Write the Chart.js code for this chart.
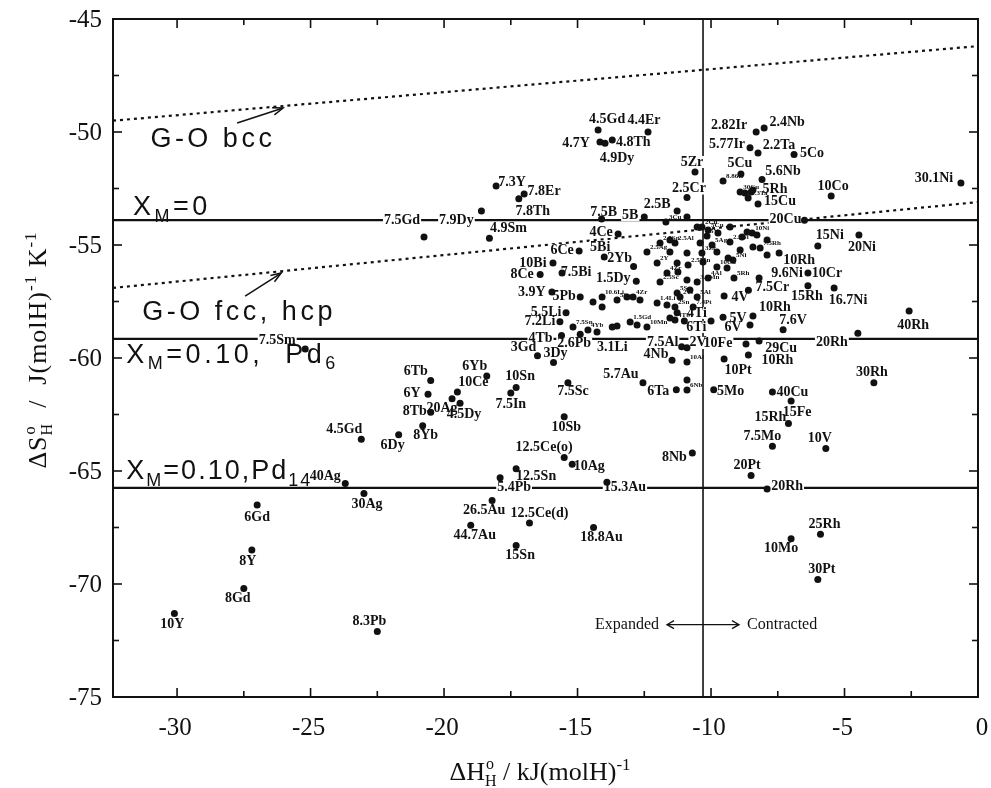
<!DOCTYPE html>
<html>
<head>
<meta charset="utf-8">
<script src="https://cdn.jsdelivr.net/npm/chart.js@4.4.1/dist/chart.umd.min.js"></script>
<style>
  html, body { margin: 0; padding: 0; background: #fff; }
</style>
</head>
<body>
<canvas id="chart" width="991" height="788"></canvas>
<script>
// ---- data: [label, dH (kJ/molH), dS (J/molH/K)] ----
const groupTop = [
  ['4.5Gd', -14.23, -49.91], ['4.4Er', -12.36, -50.0], ['4.7Y', -14.16, -50.44],
  ['4.8Th', -13.7, -50.35], ['4.9Dy', -13.97, -50.5], ['2.82Ir', -8.31, -50.0],
  ['2.4Nb', -8.01, -49.82], ['5.77Ir', -8.54, -50.7], ['2.2Ta', -8.24, -50.93],
  ['5Co', -6.89, -51.0], ['5Zr', -10.6, -51.77], ['5Cu', -8.88, -51.86],
  ['5.6Nb', -8.09, -52.1], ['5Rh', -8.5, -52.65], ['10Co', -5.5, -52.83],
  ['30.1Ni', -0.64, -52.26], ['15Cu', -8.24, -53.19], ['2.5Cr', -10.9, -52.9],
  ['2.5B', -11.27, -53.5], ['7.5B', -14.1, -53.85], ['5B', -12.5, -53.76],
  ['20Cu', -6.5, -53.9], ['7.3Y', -18.05, -52.39], ['7.8Er', -17.0, -52.74],
  ['7.8Th', -17.2, -52.95], ['7.9Dy', -18.6, -53.5], ['4.9Sm', -18.3, -54.7],
  ['7.5Gd', -20.75, -54.65]
];
const groupMidRight = [
  ['15Ni', -6.0, -55.04], ['20Ni', -4.46, -54.56], ['10Rh', -7.45, -55.35],
  ['9.6Ni', -8.2, -56.46], ['10Cr', -6.37, -56.24], ['15Rh', -6.37, -56.8],
  ['16.7Ni', -5.39, -56.9], ['7.5Cr', -8.6, -57.0], ['4V', -9.51, -57.26],
  ['10Rh', -8.43, -58.14], ['40Rh', -2.58, -57.92], ['5V', -9.55, -58.2],
  ['6V', -8.54, -58.54], ['7.6V', -7.3, -58.75], ['20Rh', -4.5, -58.9],
  ['10Fe', -8.69, -59.38], ['29Cu', -8.2, -59.25], ['10Rh', -8.6, -59.87],
  ['10Pt', -9.51, -60.04], ['5Mo', -9.9, -61.4], ['40Cu', -7.7, -61.5],
  ['4Ti', -10.0, -58.36], ['6Ti', -11.0, -58.36], ['7.5Al', -11.1, -59.5],
  ['2V', -10.9, -59.55], ['4Nb', -11.46, -60.1], ['5.7Au', -12.55, -61.1],
  ['6Ta', -11.3, -61.4]
];
const groupMidLeft = [
  ['4Ce', -13.48, -54.51], ['6Ce', -14.94, -55.27], ['5Bi', -14.0, -55.53],
  ['7.5Bi', -15.58, -56.24], ['1.5Dy', -12.8, -56.6], ['2Yb', -12.9, -55.95],
  ['10Bi', -15.92, -55.8], ['8Ce', -16.4, -56.3], ['3.9Y', -15.96, -57.08],
  ['5Pb', -14.9, -57.3], ['5.5Li', -15.43, -58.0], ['7.2Li', -15.66, -58.4],
  ['3.1Li', -13.7, -58.63], ['2.6Pb', -14.9, -58.95], ['4Tb', -15.6, -59.0],
  ['7.5Sc', -15.36, -61.1], ['3Gd', -16.5, -59.9], ['3Dy', -15.9, -60.2]
];
const groupLowLeft = [
  ['7.5Sm', -25.2, -59.6], ['6Tb', -20.5, -61.0], ['6Y', -20.6, -61.6],
  ['8Tb', -20.5, -62.4], ['8Yb', -20.8, -63.0], ['6Dy', -21.7, -63.4],
  ['4.5Gd', -23.1, -63.6], ['20Ag', -19.7, -61.8], ['10Ce', -19.5, -61.5],
  ['4.5Dy', -19.4, -62.0], ['6Yb', -18.4, -60.8], ['10Sn', -17.3, -61.3],
  ['7.5In', -17.5, -61.55], ['10Sb', -15.5, -62.6], ['12.5Ce(o)', -15.5, -64.4],
  ['10Ag', -15.2, -64.7], ['12.5Sn', -17.3, -64.9], ['5.4Pb', -17.9, -65.3],
  ['15.3Au', -13.9, -65.5], ['26.5Au', -18.2, -66.3], ['44.7Au', -19.0, -67.4],
  ['12.5Ce(d)', -16.8, -67.3], ['18.8Au', -14.4, -67.5], ['15Sn', -17.3, -68.3],
  ['8.3Pb', -22.5, -72.1], ['40Ag', -23.7, -65.55], ['30Ag', -23.0, -66.0],
  ['6Gd', -27.0, -66.5], ['8Y', -27.2, -68.5], ['8Gd', -27.5, -70.2],
  ['10Y', -30.1, -71.3]
];
const groupLowRight = [
  ['8Nb', -10.7, -64.2], ['20Pt', -8.5, -65.2], ['20Rh', -7.9, -65.8],
  ['7.5Mo', -7.7, -63.9], ['15Rh', -7.1, -62.9], ['15Fe', -7.0, -61.9],
  ['10V', -5.7, -64.0], ['30Rh', -3.9, -61.1], ['10Mo', -7.0, -68.0],
  ['25Rh', -5.9, -67.8], ['30Pt', -6.0, -69.8]
];
// crowded centre, tiny labels
const groupCluster = [
  ['8.86Ir', -9.55, -52.17], ['5.3Ta', -8.61, -52.92], ['30Cu', -8.91, -52.65],
  ['', -8.73, -52.7], ['', -8.43, -52.57], ['3Cu', -11.69, -53.98],
  ['', -10.9, -53.76], ['2Cu', -10.34, -54.2], ['5Cu', -10.11, -54.34],
  ['', -9.74, -54.47], ['2.5Sn', -11.91, -54.91], ['', -11.54, -54.78],
  ['2.5Al', -11.35, -54.91], ['', -10.41, -54.91], ['5Ag', -9.96, -55.0],
  ['2.5Ni', -9.29, -54.87], ['', -8.84, -54.65], ['10Ni', -8.46, -54.47],
  ['', -8.65, -54.42], ['2.5Ag', -12.4, -55.31], ['', -11.54, -55.31],
  ['', -10.9, -55.35], ['3Zr', -10.34, -55.35], ['', -9.78, -55.31],
  ['', -9.36, -55.58], ['5Ni', -9.18, -55.66], ['', -8.91, -55.22],
  ['7.5Rh', -8.16, -55.13], ['', -7.9, -55.44], ['2Y', -12.02, -55.8],
  ['', -11.27, -55.8], ['2.5Mn', -10.86, -55.88], ['', -10.3, -55.75],
  ['10Cu', -9.78, -55.97], ['', -9.4, -56.02], ['4Zr', -11.65, -56.24],
  ['', -11.24, -56.19], ['4Al', -10.11, -56.46], ['5Rh', -9.14, -56.46],
  ['2.5Sc', -11.91, -56.64], ['', -10.9, -56.55], ['3.5Mn', -10.52, -56.64],
  ['5Sn', -11.27, -57.12], ['', -10.79, -56.99], ['2Ti', -11.16, -57.3],
  ['5Al', -10.52, -57.3], ['10.6Li', -14.08, -57.3], ['', -14.08, -57.74],
  ['5Sc', -13.52, -57.43], ['', -13.15, -57.3], ['4Zr', -12.92, -57.3],
  ['', -12.66, -57.43], ['1.4Li', -12.02, -57.57], ['', -11.65, -57.65],
  ['2Sn', -11.35, -57.74], ['', -11.27, -58.0], ['7.4Pt', -10.67, -57.74],
  ['', -14.42, -57.52], ['7.5Sn', -15.17, -58.63], ['4Yb', -14.61, -58.76],
  ['', -14.27, -58.85], ['', -13.52, -58.58], ['1.5Gd', -13.03, -58.41],
  ['', -12.77, -58.54], ['10Mn', -12.4, -58.63], ['', -11.54, -58.23],
  ['4Tb', -11.35, -58.32], ['10Al', -10.9, -60.18], ['', -10.9, -60.97],
  ['6Nb', -10.9, -61.42], ['', -10.52, -54.2], ['', -9.29, -54.2],
  ['', -8.28, -54.56], ['', -7.9, -54.78], ['5V', -10.15, -54.6],
  ['', -8.43, -55.09]
];

// guide lines
const xmLevels = [-53.9, -59.15, -65.75];        // X_M = 0, Pd6, Pd14
const splitH = -10.3;                              // expanded / contracted
const goBcc = [[-32.4, -49.5], [0, -46.2]];
const goFcc = [[-32.4, -56.9], [0, -53.1]];

// axes
const xRange = [-32.4, 0];
const yRange = [-75, -45];
const xTicks = [-30, -25, -20, -15, -10, -5, 0];
const xMinor = [-27.5, -22.5, -17.5, -12.5, -7.5, -2.5];
const yTicks = [-45, -50, -55, -60, -65, -70, -75];
const yMinor = [-47.5, -52.5, -57.5, -62.5, -67.5, -72.5];

// ---- label placement (pixel offsets of label centre from the point) ----
const placeTop = [
  [9,-11],[-4,-12],[-24,1],[21,2],[12,15],[-27,-7],[23,-6],[-23,-3],[21,-8],[18,-1],
  [-3,-10],[-1,-11],[21,-8],[24,-2],[2,-10],[-27,-5],[22,-3],[2,-9],[-20,-7],[2,-7],
  [-14,-2],[-19,-1],[16,-4],[20,-3],[14,13],[-25,9],[19,-10],[-22,-17]
];
const placeMidRight = [
  [12,-11],[3,12],[20,7],[28,-5],[19,0],[-1,11],[14,12],[24,-3],[16,1],[22,-9],
  [4,14],[15,1],[-17,2],[10,-9],[-26,9],[-28,-1],[22,7],[29,5],[14,11],[17,2],
  [20,0],[-14,-8],[12,6],[-19,-4],[11,-5],[-16,-6],[-22,-8],[-18,2]
];
const placeMidLeft = [
  [-17,-2],[-17,-1],[-4,-10],[14,-1],[-23,-3],[-14,-8],[-20,0],[-18,0],[-20,0],
  [-16,-1],[-20,0],[-20,0],[0,20],[-6,9],[-21,3],[5,9],[-14,-8],[2,-9]
];
const placeLowLeft = [
  [-28,-9],[-15,-9],[-16,-1],[-16,-1],[3,10],[-6,11],[-17,-10],[-10,10],[16,-10],
  [4,11],[-12,-10],[4,-11],[0,11],[2,11],[-20,-10],[17,2],[20,8],[14,10],[18,5],
  [-8,10],[4,10],[10,-10],[8,10],[4,10],[-8,-10],[-20,-7],[3,11],[0,12],[-4,11],
  [-6,10],[-2,11]
];
const placeLowRight = [
  [-18,4],[-4,-10],[20,-3],[-10,-10],[-18,-6],[6,11],[-6,-10],[-2,-10],[-10,10],
  [4,-10],[4,-10]
];

const labelled = [
  [groupTop, placeTop], [groupMidRight, placeMidRight], [groupMidLeft, placeMidLeft],
  [groupLowLeft, placeLowLeft], [groupLowRight, placeLowRight]
];
const allPoints = groupTop.concat(groupMidRight, groupMidLeft, groupLowLeft, groupLowRight, groupCluster)
  .map(p => ({ x: p[1], y: p[2] }));

const INK = '#111';
const SERIF = '"Liberation Serif", "DejaVu Serif", serif';
const SANS = '"Liberation Sans", "DejaVu Sans", sans-serif';
const LABEL_FONT = 'bold 14px ' + SERIF;
const TINY_FONT = 'bold 7px ' + SERIF;

function guide(pts, width, dash) {
  return {
    data: pts.map(p => ({ x: p[0], y: p[1] })),
    showLine: true, pointRadius: 0, borderColor: INK, borderWidth: width,
    borderDash: dash || [], order: 1
  };
}

// rich text: parts = [[text, kind]], kind '', 'sup', 'sub', 'stack'
function richWidth(ctx, parts, size, family) {
  let w = 0;
  parts.forEach(([t, k]) => {
    if (k === '') { ctx.font = size + 'px ' + family; w += ctx.measureText(t).width; }
    else if (k === 'stack') { ctx.font = Math.round(size * 0.62) + 'px ' + family; w += ctx.measureText('H').width; }
    else { ctx.font = Math.round(size * 0.65) + 'px ' + family; w += ctx.measureText(t).width; }
  });
  return w;
}
function drawRich(ctx, x, y, parts, size, family) {
  ctx.textAlign = 'left';
  ctx.textBaseline = 'alphabetic';
  let cx = x;
  parts.forEach(([t, k]) => {
    if (k === '') {
      ctx.font = size + 'px ' + family;
      ctx.fillText(t, cx, y); cx += ctx.measureText(t).width;
    } else if (k === 'stack') {
      const s = Math.round(size * 0.62);
      ctx.font = s + 'px ' + family;
      const [a, b] = t.split('|');
      ctx.fillText(a, cx + 1, y - size * 0.42);
      ctx.fillText(b, cx, y + size * 0.22);
      cx += ctx.measureText(b).width;
    } else {
      const s = Math.round(size * 0.65);
      ctx.font = s + 'px ' + family;
      ctx.fillText(t, cx, y + (k === 'sup' ? -size * 0.4 : size * 0.25));
      cx += ctx.measureText(t).width;
    }
  });
}

function arrow(ctx, x1, y1, x2, y2) {
  ctx.beginPath(); ctx.moveTo(x1, y1); ctx.lineTo(x2, y2); ctx.stroke();
  const a = Math.atan2(y2 - y1, x2 - x1), L = 11;
  ctx.beginPath();
  ctx.moveTo(x2 - L * Math.cos(a - 0.35), y2 - L * Math.sin(a - 0.35));
  ctx.lineTo(x2, y2);
  ctx.lineTo(x2 - L * Math.cos(a + 0.35), y2 - L * Math.sin(a + 0.35));
  ctx.stroke();
}

const decor = {
  id: 'decor',
  beforeDatasetDraw(chart, args) {
    if (args.index !== 0) return;
    // white boxes behind labels make the gaps in the reference lines
    const { ctx, scales: { x, y } } = chart;
    ctx.save();
    ctx.font = LABEL_FONT;
    ctx.fillStyle = '#fff';
    labelled.forEach(([grp, place]) => {
      grp.forEach((p, i) => {
        const w = ctx.measureText(p[0]).width;
        const cx = x.getPixelForValue(p[1]) + place[i][0];
        const cy = y.getPixelForValue(p[2]) + place[i][1];
        ctx.fillRect(cx - w / 2 - 1, cy - 6, w + 2, 12);
      });
    });
    ctx.restore();
  },
  afterDatasetsDraw(chart) {
    const { ctx, chartArea: a, scales: { x, y } } = chart;
    const X = v => x.getPixelForValue(v), Y = v => y.getPixelForValue(v);
    ctx.save();
    ctx.fillStyle = INK;
    ctx.strokeStyle = INK;

    // point labels
    ctx.font = LABEL_FONT;
    ctx.textAlign = 'center';
    ctx.textBaseline = 'middle';
    labelled.forEach(([grp, place]) => {
      grp.forEach((p, i) => ctx.fillText(p[0], X(p[1]) + place[i][0], Y(p[2]) + place[i][1]));
    });
    ctx.font = TINY_FONT;
    ctx.textAlign = 'left';
    groupCluster.forEach(p => { if (p[0]) ctx.fillText(p[0], X(p[1]) + 3, Y(p[2]) - 5); });

    // annotations
    ctx.letterSpacing = '3.5px';
    drawRich(ctx, X(-31.0), Y(-50.66), [['G-O bcc', '']], 27, SANS);
    drawRich(ctx, X(-31.65), Y(-53.67), [['X', ''], ['M', 'sub'], ['=0', '']], 27, SANS);
    drawRich(ctx, X(-31.3), Y(-58.3), [['G-O fcc, hcp', '']], 27, SANS);
    drawRich(ctx, X(-31.9), Y(-60.2), [['X', ''], ['M', 'sub'], ['=0.10,  Pd', ''], ['6', 'sub']], 27, SANS);
    ctx.letterSpacing = '2px';
    drawRich(ctx, X(-31.9), Y(-65.35), [['X', ''], ['M', 'sub'], ['=0.10,Pd', ''], ['14', 'sub']], 27, SANS);
    ctx.letterSpacing = '0px';
    ctx.lineWidth = 1.5;
    arrow(ctx, X(-27.75), Y(-49.6), X(-26.03), Y(-48.94));
    arrow(ctx, X(-27.45), Y(-57.26), X(-26.1), Y(-56.24));

    // expanded / contracted
    const sx = X(splitH), ty = Y(-71.8);
    ctx.font = '16px ' + SERIF;
    ctx.textBaseline = 'middle';
    ctx.textAlign = 'right';
    ctx.fillText('Expanded', sx - 44, ty);
    ctx.textAlign = 'left';
    ctx.fillText('Contracted', sx + 44, ty);
    ctx.lineWidth = 1.3;
    const head = 7;
    ctx.beginPath(); ctx.moveTo(sx - 36, ty); ctx.lineTo(sx + 36, ty); ctx.stroke();
    ctx.beginPath();
    ctx.moveTo(sx - 36 + head, ty - 4); ctx.lineTo(sx - 36, ty); ctx.lineTo(sx - 36 + head, ty + 4);
    ctx.moveTo(sx + 36 - head, ty - 4); ctx.lineTo(sx + 36, ty); ctx.lineTo(sx + 36 - head, ty + 4);
    ctx.stroke();

    // frame and inward ticks
    ctx.lineWidth = 2;
    ctx.strokeRect(a.left, a.top, a.right - a.left, a.bottom - a.top);
    ctx.lineWidth = 1.6;
    const tick = (x1, y1, x2, y2) => { ctx.beginPath(); ctx.moveTo(x1, y1); ctx.lineTo(x2, y2); ctx.stroke(); };
    xTicks.filter(v => v < 0).forEach(v => { tick(X(v), a.bottom, X(v), a.bottom - 9); tick(X(v), a.top, X(v), a.top + 9); });
    xMinor.forEach(v => { tick(X(v), a.bottom, X(v), a.bottom - 6); tick(X(v), a.top, X(v), a.top + 6); });
    yTicks.slice(1, -1).forEach(v => { tick(a.left, Y(v), a.left + 9, Y(v)); tick(a.right, Y(v), a.right - 9, Y(v)); });
    yMinor.forEach(v => { tick(a.left, Y(v), a.left + 6, Y(v)); tick(a.right, Y(v), a.right - 6, Y(v)); });

    // tick labels
    ctx.font = '25px ' + SERIF;
    ctx.textBaseline = 'middle';
    ctx.textAlign = 'center';
    xTicks.forEach(v => ctx.fillText(String(v), X(v) + (v === 0 ? 4 : -2), a.bottom + 31));
    ctx.textAlign = 'right';
    yTicks.forEach(v => ctx.fillText(String(v), a.left - 11, Y(v) + 1));
    ctx.restore();
  },
  afterDraw(chart) {
    const ctx = chart.ctx;
    ctx.save();
    ctx.fillStyle = INK;
    const xt = [['ΔH', ''], ['o|H', 'stack'], [' / kJ(molH)', ''], ['-1', 'sup']];
    const xw = richWidth(ctx, xt, 26, SERIF);
    drawRich(ctx, 540 - xw / 2, 780, xt, 26, SERIF);
    const yt = [['ΔS', ''], ['o|H', 'stack'], ['  /  J(molH)', ''], ['-1', 'sup'], [' K', ''], ['-1', 'sup']];
    ctx.letterSpacing = '1px';
    const yw = richWidth(ctx, yt, 26, SERIF) + 20;
    ctx.translate(46, 340);
    ctx.rotate(-Math.PI / 2);
    drawRich(ctx, -yw / 2, 0, yt, 26, SERIF);
    ctx.restore();
  }
};

const datasets = [
  { data: allPoints, pointRadius: 3.5, pointHoverRadius: 3.5, backgroundColor: INK, borderWidth: 0, order: 0 }
];
xmLevels.forEach(v => datasets.push(guide([[xRange[0], v], [xRange[1], v]], 2.3)));
datasets.push(guide([[splitH, yRange[0]], [splitH, yRange[1]]], 1.6));
datasets.push(guide(goBcc, 2.2, [3, 4]));
datasets.push(guide(goFcc, 2.2, [3, 4]));

new Chart(document.getElementById('chart'), {
  type: 'scatter',
  data: { datasets },
  options: {
    responsive: false,
    animation: false,
    devicePixelRatio: 1,
    layout: { padding: { top: 19, right: 13, left: 0, bottom: 0 } },
    plugins: { legend: { display: false }, tooltip: { enabled: false } },
    scales: {
      x: {
        type: 'linear', min: xRange[0], max: xRange[1],
        afterBuildTicks: s => { s.ticks = xTicks.map(v => ({ value: v })); },
        afterFit: s => { s.height = 91; },
        grid: { display: false, drawTicks: false },
        border: { display: false },
        ticks: { display: false }
      },
      y: {
        type: 'linear', min: yRange[0], max: yRange[1],
        afterBuildTicks: s => { s.ticks = yTicks.map(v => ({ value: v })); },
        afterFit: s => { s.width = 113; },
        grid: { display: false, drawTicks: false },
        border: { display: false },
        ticks: { display: false }
      }
    }
  },
  plugins: [decor]
});
</script>
</body>
</html>
